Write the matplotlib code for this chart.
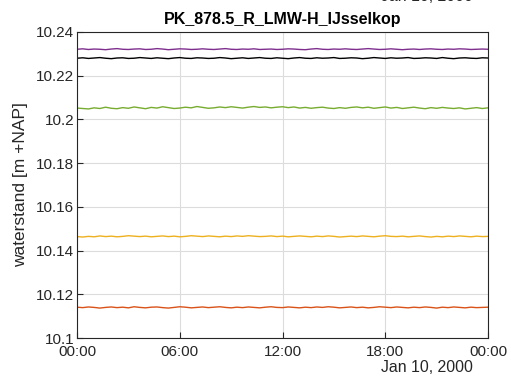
import numpy as np
import pandas as pd
import matplotlib
matplotlib.use("Agg")
import matplotlib.pyplot as plt
import matplotlib.dates as mdates

plt.rcParams['font.family'] = ['Liberation Sans', 'DejaVu Sans']

# tijdas: 10 jan 2000, 00:00 - 24:00, elke 20 minuten
times = pd.date_range('2000-01-10 00:00', '2000-01-11 00:00', periods=73)

purple = [10.2321, 10.2323, 10.2320, 10.2322, 10.2321, 10.2319, 10.2322, 10.2324, 10.2321, 10.2320, 10.2322, 10.2323,
          10.2320, 10.2321, 10.2324, 10.2322, 10.2319, 10.2321, 10.2323, 10.2322, 10.2320, 10.2321, 10.2323, 10.2321,
          10.2320, 10.2322, 10.2324, 10.2321, 10.2320, 10.2322, 10.2321, 10.2323, 10.2320, 10.2321, 10.2322, 10.2320,
          10.2321, 10.2323, 10.2322, 10.2320, 10.2319, 10.2322, 10.2324, 10.2321, 10.2320, 10.2322, 10.2321, 10.2323,
          10.2321, 10.2320, 10.2322, 10.2324, 10.2322, 10.2320, 10.2321, 10.2323, 10.2321, 10.2319, 10.2321, 10.2322,
          10.2320, 10.2322, 10.2323, 10.2321, 10.2320, 10.2322, 10.2321, 10.2323, 10.2322, 10.2320, 10.2321, 10.2322,
          10.2321]
black = [10.2280, 10.2282, 10.2279, 10.2281, 10.2283, 10.2280, 10.2278, 10.2281, 10.2282, 10.2279, 10.2280, 10.2283,
         10.2281, 10.2279, 10.2282, 10.2280, 10.2278, 10.2281, 10.2283, 10.2280, 10.2279, 10.2282, 10.2281, 10.2279,
         10.2280, 10.2283, 10.2281, 10.2278, 10.2280, 10.2282, 10.2279, 10.2281, 10.2283, 10.2280, 10.2279, 10.2282,
         10.2280, 10.2278, 10.2281, 10.2283, 10.2280, 10.2279, 10.2282, 10.2280, 10.2281, 10.2283, 10.2279, 10.2280,
         10.2282, 10.2281, 10.2278, 10.2280, 10.2283, 10.2281, 10.2279, 10.2282, 10.2280, 10.2281, 10.2283, 10.2279,
         10.2280, 10.2282, 10.2281, 10.2279, 10.2283, 10.2280, 10.2278, 10.2281, 10.2282, 10.2280, 10.2279, 10.2282,
         10.2281]
green = [10.2052, 10.2050, 10.2048, 10.2053, 10.2050, 10.2056, 10.2051, 10.2049, 10.2054, 10.2051, 10.2057, 10.2053,
         10.2049, 10.2055, 10.2052, 10.2058, 10.2054, 10.2050, 10.2052, 10.2056, 10.2053, 10.2059, 10.2055, 10.2051,
         10.2053, 10.2057, 10.2054, 10.2058, 10.2055, 10.2052, 10.2056, 10.2059, 10.2055, 10.2057, 10.2053, 10.2056,
         10.2058, 10.2054, 10.2057, 10.2052, 10.2055, 10.2051, 10.2054, 10.2056, 10.2052, 10.2050, 10.2054, 10.2051,
         10.2055, 10.2057, 10.2053, 10.2056, 10.2051, 10.2054, 10.2057, 10.2052, 10.2055, 10.2050, 10.2053, 10.2056,
         10.2052, 10.2049, 10.2054, 10.2051, 10.2055, 10.2052, 10.2050, 10.2053, 10.2048, 10.2051, 10.2054, 10.2050,
         10.2053]
yellow = [10.1464, 10.1462, 10.1465, 10.1463, 10.1467, 10.1464, 10.1466, 10.1463, 10.1465, 10.1468, 10.1466, 10.1464,
          10.1466, 10.1463, 10.1465, 10.1467, 10.1464, 10.1466, 10.1463, 10.1465, 10.1468, 10.1466, 10.1464, 10.1467,
          10.1465, 10.1463, 10.1466, 10.1464, 10.1467, 10.1465, 10.1468, 10.1466, 10.1464, 10.1465, 10.1467, 10.1464,
          10.1466, 10.1463, 10.1465, 10.1467, 10.1465, 10.1463, 10.1466, 10.1464, 10.1467, 10.1465, 10.1462, 10.1464,
          10.1466, 10.1464, 10.1467, 10.1465, 10.1463, 10.1466, 10.1468, 10.1465, 10.1464, 10.1466, 10.1463, 10.1465,
          10.1467, 10.1464, 10.1462, 10.1465, 10.1463, 10.1466, 10.1464, 10.1467, 10.1465, 10.1463, 10.1466, 10.1464,
          10.1465]
orange = [10.1141, 10.1139, 10.1142, 10.1140, 10.1137, 10.1140, 10.1142, 10.1139, 10.1141, 10.1138, 10.1143, 10.1140,
          10.1138, 10.1141, 10.1142, 10.1139, 10.1137, 10.1140, 10.1143, 10.1141, 10.1138, 10.1140, 10.1142, 10.1139,
          10.1141, 10.1143, 10.1140, 10.1138, 10.1141, 10.1139, 10.1142, 10.1140, 10.1138, 10.1141, 10.1143, 10.1140,
          10.1139, 10.1142, 10.1140, 10.1138, 10.1141, 10.1139, 10.1142, 10.1140, 10.1143, 10.1141, 10.1138, 10.1140,
          10.1142, 10.1139, 10.1141, 10.1138, 10.1140, 10.1143, 10.1141, 10.1139, 10.1142, 10.1140, 10.1138, 10.1141,
          10.1139, 10.1142, 10.1140, 10.1137, 10.1141, 10.1139, 10.1142, 10.1140, 10.1138, 10.1141, 10.1139, 10.1140,
          10.1141]

series = [(orange, '#D95319'), (yellow, '#EDB120'), (purple, '#7E2F8E'),
          (green, '#77AC30'), (black, 'k')]

fig = plt.figure(figsize=(5.11, 3.8), dpi=100)
ax = fig.add_axes([0.1507, 0.1105, 0.8043, 0.8053])

for vals, c in series:
    ax.plot(times, vals, color=c, lw=1.0)

ax.set_xlim(times[0], times[-1])
ax.set_ylim(10.1, 10.24)
ax.set_yticks(np.arange(10.1, 10.2401, 0.02))
ax.set_yticklabels(['10.1', '10.12', '10.14', '10.16', '10.18', '10.2', '10.22', '10.24'])
ax.xaxis.set_major_locator(mdates.HourLocator(byhour=[0, 6, 12, 18]))
ax.xaxis.set_major_formatter(mdates.DateFormatter('%H:%M'))

ax.grid(True, color='#dcdcdc', lw=0.8)
ax.tick_params(direction='in', labelsize=11, colors='#262626', pad=2, length=4)
ax.tick_params(axis='x', pad=5)
for s in ax.spines.values():
    s.set_color('#262626')

ax.set_ylabel('waterstand [m +NAP]', fontsize=12.5, color='#262626', labelpad=6)
ax.set_title('PK_878.5_R_LMW-H_IJsselkop', fontsize=11.5, fontweight='bold', pad=6)

fig.text(473 / 511, 1 - 372 / 380, 'Jan 10, 2000', ha='right', va='baseline',
         fontsize=11.4, color='#262626')
fig.text(473 / 511, 1 - 1 / 380, 'Jan 10, 2000', ha='right', va='baseline',
         fontsize=11.4, color='#262626')

fig.savefig('out.png', dpi=100)
